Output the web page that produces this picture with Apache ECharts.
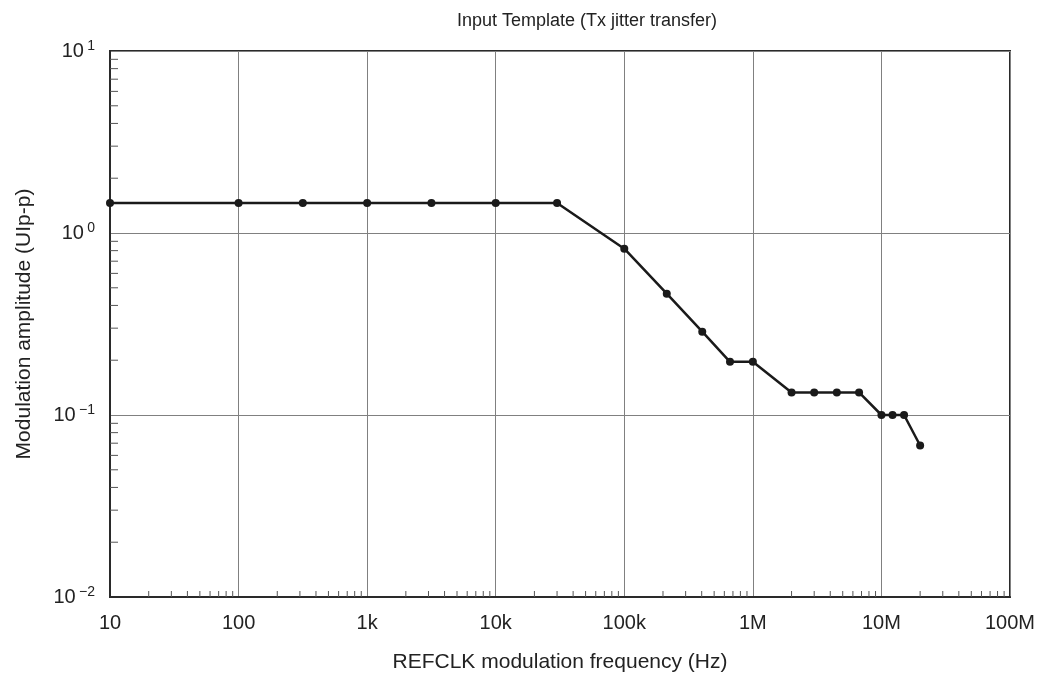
<!DOCTYPE html>
<html><head><meta charset="utf-8">
<script src="https://cdn.jsdelivr.net/npm/echarts@6/dist/echarts.min.js"></script>
<style>html,body{margin:0;padding:0;background:#fff}#c{width:1048px;height:678px}</style>
</head><body><div id="c"></div>
<script>
const titleText = 'Input Template (Tx jitter transfer)';
const xAxisName = 'REFCLK modulation frequency (Hz)';
const yAxisName = 'Modulation amplitude (UIp-p)';
const freqHz = [10, 100, 316, 1000, 3162, 10000, 30000, 100000, 214000, 404000, 664000, 1000000, 2000000, 3000000, 4500000, 6700000, 10000000, 12200000, 15000000, 20000000];
const amplitude = [1.46, 1.46, 1.46, 1.46, 1.46, 1.46, 1.46, 0.82, 0.464, 0.287, 0.196, 0.196, 0.133, 0.133, 0.133, 0.133, 0.1, 0.1, 0.1, 0.068];
const xTickValues = [10, 100, 1000, 10000, 100000, 1000000, 10000000, 100000000];
const xTickLabels = ['10', '100', '1k', '10k', '100k', '1M', '10M', '100M'];
const yTickValues = [0.01, 0.1, 1, 10];
const yTickExp = ['\u22122', '\u22121', '0', '1'];
const minorMult = [2, 3, 4, 5, 6, 7, 8, 9];

const xMinor = [];
for (let i = 0; i < xTickValues.length - 1; i++) minorMult.forEach(m => xMinor.push([xTickValues[i] * m, 0.01]));
const yMinor = [];
for (let i = 0; i < yTickValues.length - 1; i++) minorMult.forEach(m => yMinor.push([10, +(yTickValues[i] * m).toPrecision(3)]));

function nearestIdx(arr, v) {
  let best = 0, bd = Infinity;
  arr.forEach((a, i) => { const d = Math.abs(Math.log10(a) - Math.log10(v)); if (d < bd) { bd = d; best = i; } });
  return best;
}

const chart = echarts.init(document.getElementById('c'), null, {renderer: 'canvas'});
const font = 'Liberation Sans, Arial, Helvetica, sans-serif';
chart.setOption({
  animation: false,
  backgroundColor: '#fff',
  title: {text: titleText, left: 582, top: 7, textAlign: 'center',
    textStyle: {fontFamily: font, fontSize: 18, fontWeight: 'normal', color: '#222'}},
  grid: {left: 110, right: 38, top: 51, bottom: 81, show: true, borderColor: '#2a2a2a', borderWidth: 2,
    containLabel: false, outerBoundsMode: 'none'},
  xAxis: {
    type: 'log', logBase: 10, min: 10, max: 100000000, splitNumber: 7,
    name: xAxisName, nameLocation: 'middle', nameGap: 55,
    nameTextStyle: {fontFamily: font, fontSize: 21, color: '#222'},
    axisLine: {show: true, lineStyle: {color: '#2a2a2a', width: 2}},
    axisTick: {show: false},
    splitLine: {show: true, lineStyle: {color: '#808080', width: 1}},
    axisLabel: {margin: 16, fontFamily: font, fontSize: 20, color: '#222',
      formatter: v => xTickLabels[nearestIdx(xTickValues, v)]}
  },
  yAxis: {
    type: 'log', logBase: 10, min: 0.01, max: 10, splitNumber: 3,
    name: yAxisName, nameLocation: 'middle', nameGap: 75, nameRotate: 90,
    nameTextStyle: {fontFamily: font, fontSize: 21, color: '#222'},
    axisLine: {show: true, lineStyle: {color: '#2a2a2a', width: 2}},
    axisTick: {show: false},
    splitLine: {show: true, lineStyle: {color: '#808080', width: 1}},
    axisLabel: {margin: 15, fontFamily: font, color: '#222',
      formatter: v => '{b|10} {s|' + yTickExp[nearestIdx(yTickValues, v)] + '}',
      rich: {b: {fontFamily: font, fontSize: 20, color: '#222', verticalAlign: 'middle', lineHeight: 24},
             s: {fontFamily: font, fontSize: 14, color: '#222', verticalAlign: 'middle', lineHeight: 24, padding: [0, 0, 10, 0]}}}
  },
  series: [
    {type: 'custom', data: xMinor, silent: true, clip: false, z: 3,
      renderItem: (p, api) => {
        const pt = api.coord([api.value(0), api.value(1)]);
        return {type: 'line', shape: {x1: pt[0], y1: pt[1], x2: pt[0], y2: pt[1] - 6}, style: {stroke: '#555', lineWidth: 1}};
      }},
    {type: 'custom', data: yMinor, silent: true, clip: false, z: 3,
      renderItem: (p, api) => {
        const pt = api.coord([api.value(0), api.value(1)]);
        return {type: 'line', shape: {x1: pt[0], y1: pt[1], x2: pt[0] + 8, y2: pt[1]}, style: {stroke: '#555', lineWidth: 1}};
      }},
    {type: 'line', data: freqHz.map((f, i) => [f, amplitude[i]]), clip: false, z: 5,
      symbol: 'circle', symbolSize: 8,
      lineStyle: {color: '#1a1a1a', width: 2.5},
      itemStyle: {color: '#1a1a1a'}}
  ]
});
</script></body></html>
